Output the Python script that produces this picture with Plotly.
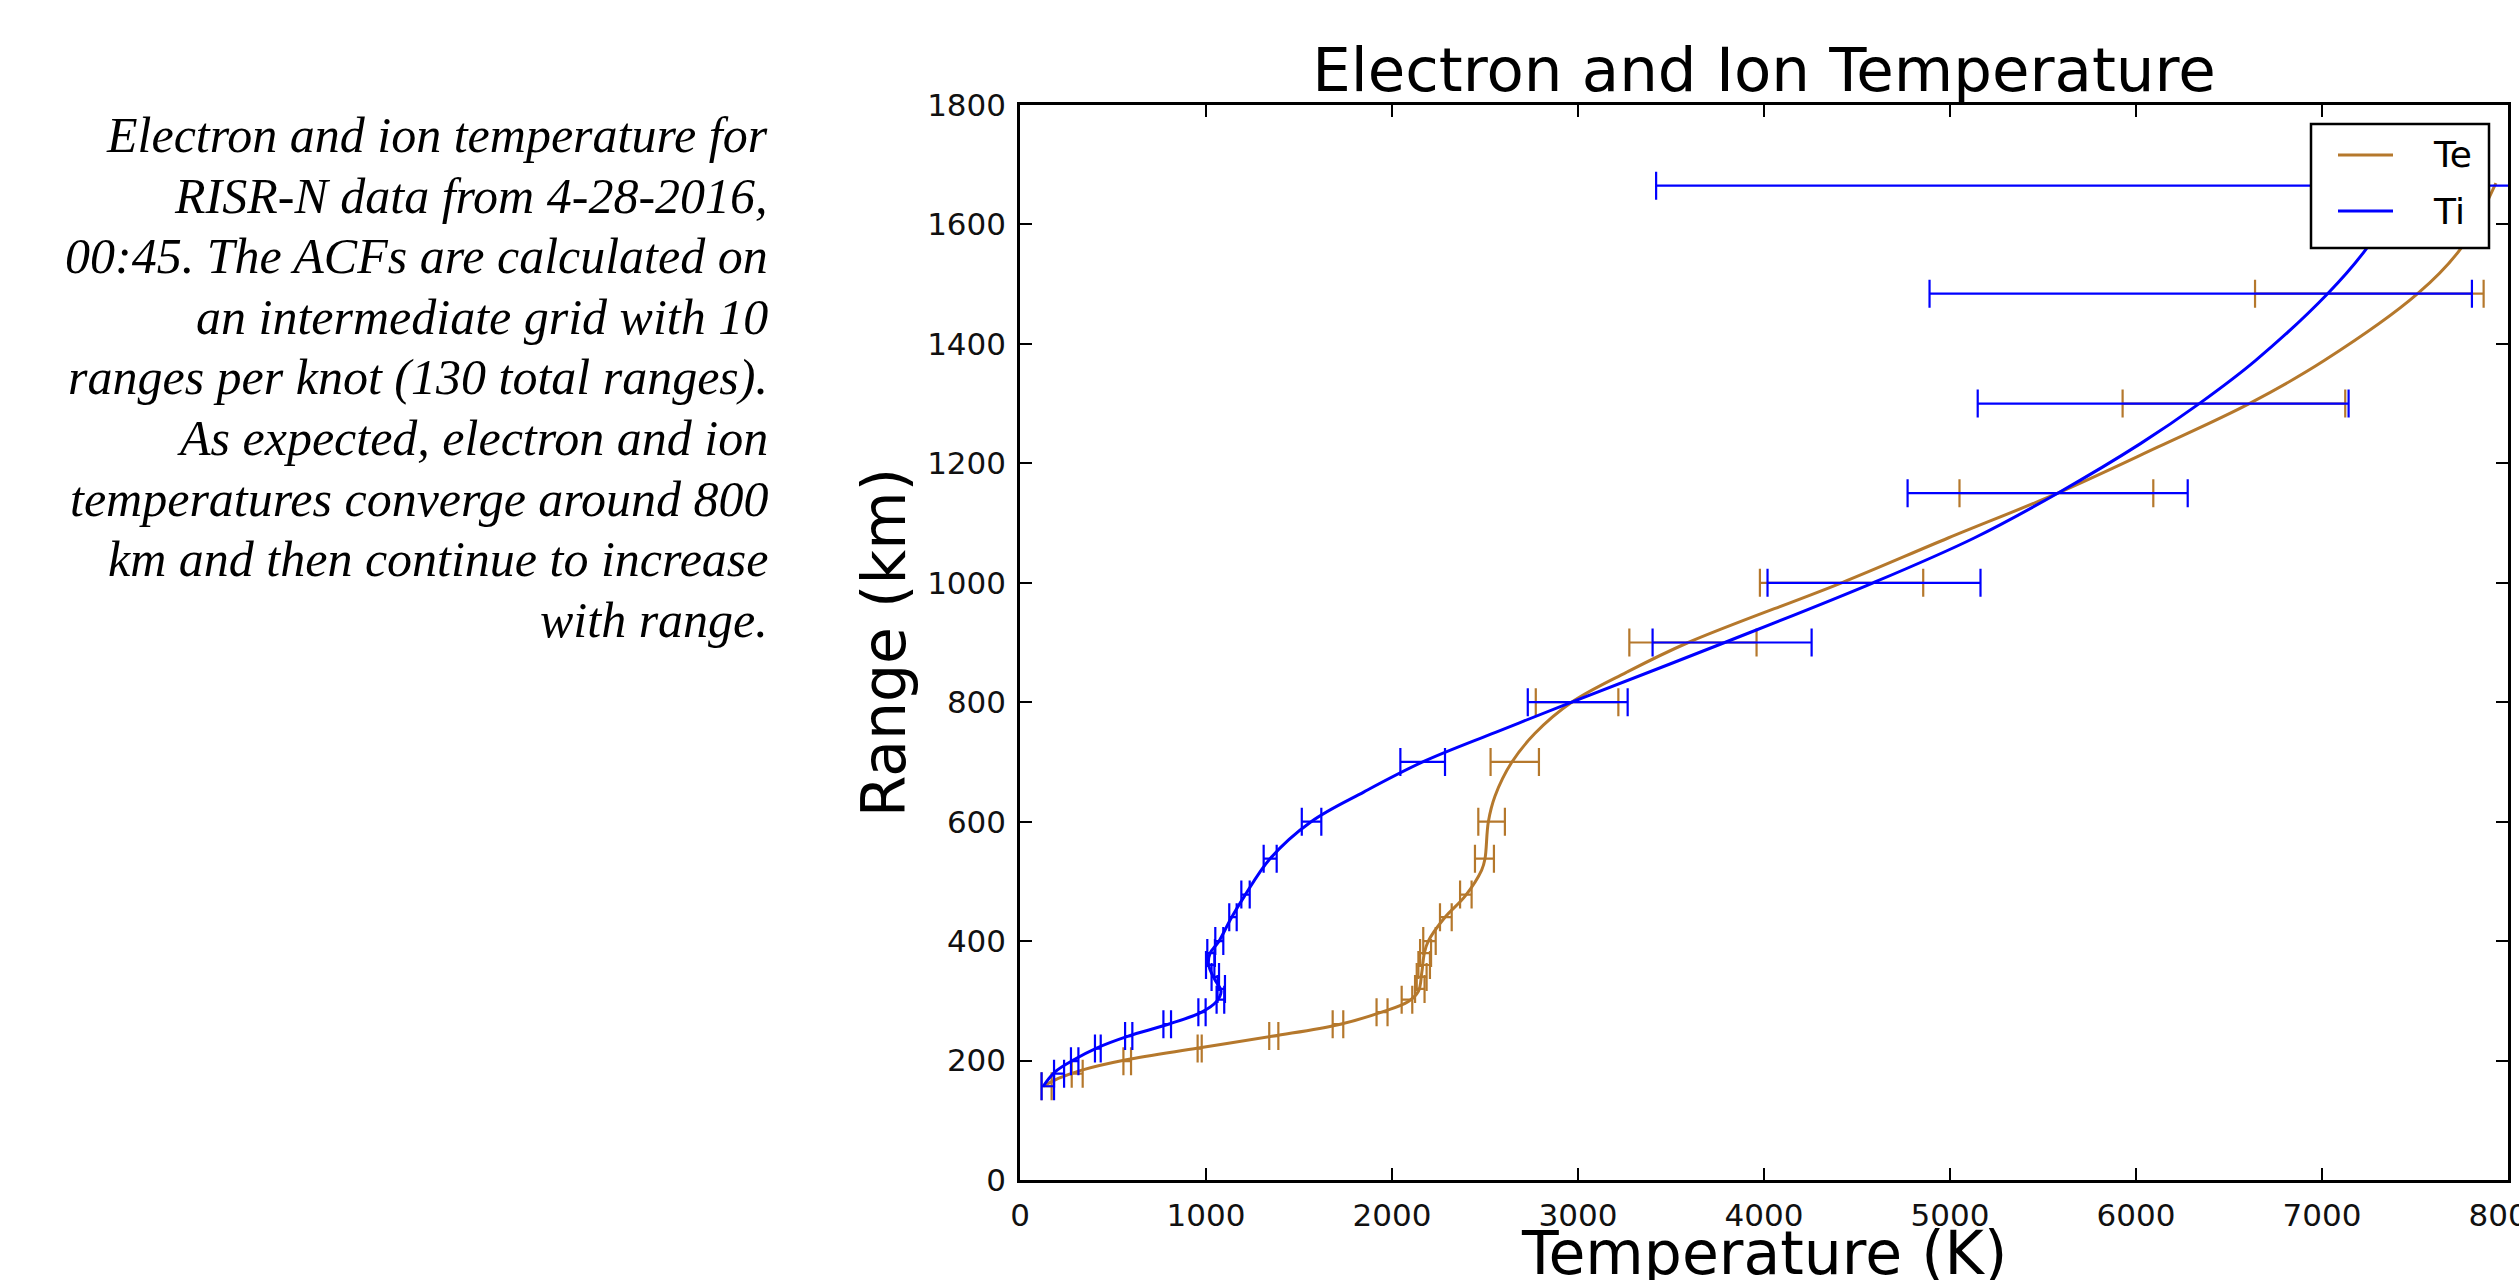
import plotly.graph_objects as go

# ---------------- data ----------------
# smooth fitted curves: range (km) and temperature (K)
te_curve_range = [157, 170, 184, 201, 221, 241, 260, 281, 299, 316, 347, 380, 400, 440, 475, 519, 538,
                  600, 643, 699, 748, 800, 850, 900, 1000, 1075, 1150, 1227, 1300, 1372, 1484, 1560, 1669]
te_curve_temp = [125, 206, 332, 565, 959, 1362, 1711, 1944, 2088, 2142, 2160, 2174, 2195, 2285, 2392, 2482, 2500,
                 2518, 2554, 2643, 2769, 2966, 3260, 3593, 4417, 4990, 5579, 6116, 6609, 7012, 7514, 7747, 7935]

ti_curve_range = [157, 181, 201, 221, 241, 260, 281, 299, 316, 335, 352, 363, 380, 391, 400, 440, 475, 538,
                  600, 650, 700, 750, 800, 900, 1000, 1075, 1150, 1233, 1300, 1372, 1484, 1560, 1665]
ti_curve_temp = [125, 188, 287, 412, 582, 789, 977, 1057, 1081, 1048, 1022, 1013, 1022, 1048, 1070, 1138, 1206, 1344,
                 1565, 1850, 2165, 2560, 2966, 3789, 4587, 5130, 5579, 6024, 6340, 6642, 7030, 7240, 7450]

# error bars at the measured ranges: lower / upper bounds (K)
bar_range = [157, 178, 199, 220, 241, 261, 281, 302, 320, 340, 360, 380, 400, 440, 478, 538, 600,
             700, 800, 900, 1000, 1150, 1300, 1484, 1665]
te_lo = [116, 278, 556, 955, 1340, 1681, 1917, 2052, 2124, 2133, 2142, 2151, 2168, 2258, 2366, 2446, 2464,
         2530, 2773, 3276, 3978, 5051, 5928, 6640]
te_hi = [170, 337, 597, 977, 1389, 1738, 1976, 2109, 2175, 2186, 2204, 2210, 2235, 2321, 2428, 2548, 2607,
         2790, 3217, 3960, 4856, 6093, 7125, 7869]
ti_lo = [116, 183, 274, 403, 565, 771, 959, 1057, 1062, 1030, 1000, 1007, 1050, 1125, 1190, 1310, 1515,
         2045, 2730, 3401, 4019, 4772, 5149, 4890, 3420]
ti_hi = [183, 237, 314, 434, 604, 812, 998, 1098, 1102, 1070, 1045, 1048, 1093, 1165, 1235, 1380, 1620,
         2285, 3267, 4256, 5164, 6278, 7143, 7806, 12000]

x_ticks = [0, 1000, 2000, 3000, 4000, 5000, 6000, 7000, 8000]
y_ticks = [0, 200, 400, 600, 800, 1000, 1200, 1400, 1600, 1800]

series_names = ["Te", "Ti"]
x_title = "Temperature (K)"
y_title = "Range (km)"
chart_title = "Electron and Ion Temperature"

caption_lines = [
    "Electron and ion temperature for",
    "RISR-N data from 4-28-2016,",
    "00:45. The ACFs are calculated on",
    "an intermediate grid with 10",
    "ranges per knot (130 total ranges).",
    "As expected, electron and ion",
    "temperatures converge around 800",
    "km and then continue to increase",
    "with range.",
]

TE_COLOR = "#B5782C"
TI_COLOR = "#0000FF"
colors = [TE_COLOR, TI_COLOR]

# ---------------- layout geometry (px) ----------------
W, H = 2519, 1280
L, R, T, B = 1020, 2508, 105, 1180


def px_x(px):
    return (px - L) / (R - L)


def px_y(py):
    return (B - py) / (B - T)


def bar_trace(rng, lo, hi, color):
    mid = [(a + b) / 2 for a, b in zip(lo, hi)]
    half = [(b - a) / 2 for a, b in zip(lo, hi)]
    return go.Scatter(
        x=mid, y=rng[:len(mid)], mode="markers",
        marker=dict(size=1, color="rgba(0,0,0,0)"),
        error_x=dict(type="data", array=half, symmetric=True, color=color,
                     thickness=2.2, width=14),
        showlegend=False, hoverinfo="skip",
    )


fig = go.Figure()
fig.add_trace(go.Scatter(x=te_curve_temp, y=te_curve_range, mode="lines", name=series_names[0],
                         line=dict(color=TE_COLOR, width=3, shape="spline", smoothing=1.0),
                         showlegend=False))
fig.add_trace(bar_trace(bar_range, te_lo, te_hi, TE_COLOR))
fig.add_trace(go.Scatter(x=ti_curve_temp, y=ti_curve_range, mode="lines", name=series_names[1],
                         line=dict(color=TI_COLOR, width=3, shape="spline", smoothing=1.0),
                         showlegend=False))
fig.add_trace(bar_trace(bar_range, ti_lo, ti_hi, TI_COLOR))

axis_common = dict(
    showline=True, linecolor="black", linewidth=2.5, mirror="ticks",
    ticks="inside", ticklen=12, tickwidth=1.5, tickcolor="black",
    showgrid=False, zeroline=False, automargin=False,
    tickfont=dict(family="DejaVu Sans", size=31, color="#111"),
)

fig.update_xaxes(range=[0, 8000], tickvals=x_ticks, ticktext=[str(v) for v in x_ticks],
                 ticklabelstandoff=6, ticklabeloverflow="allow", **axis_common)
fig.update_yaxes(range=[0, 1800], tickvals=y_ticks, ticktext=[str(v) for v in y_ticks],
                 title=dict(text=y_title, font=dict(family="DejaVu Sans", size=60, color="black"),
                            standoff=3),
                 ticklabelstandoff=5, **axis_common)

annotations = []
for i, line in enumerate(caption_lines):
    yc = 135 + 60.6 * i
    annotations.append(dict(
        text="<i>" + line + "</i>", xref="paper", yref="paper",
        x=px_x(770), y=px_y(yc),
        xanchor="right", yanchor="middle", showarrow=False,
        font=dict(family="Liberation Serif", size=50, color="black"),
    ))

# x-axis title (sits partly below the page edge, as in the reference)
annotations.append(dict(text=x_title, xref="paper", yref="paper", x=0.5, y=px_y(1253),
                        xanchor="center", yanchor="middle", showarrow=False,
                        font=dict(family="DejaVu Sans", size=60, color="black")))

# legend box (drawn as a framed key in the upper-right corner)
shapes = [dict(type="rect", xref="paper", yref="paper",
               x0=px_x(2311), x1=px_x(2489), y0=px_y(248), y1=px_y(124),
               fillcolor="white", line=dict(color="black", width=2.5), layer="above")]
for k, (name, col) in enumerate(zip(series_names, colors)):
    yrow = 155 + 56 * k
    shapes.append(dict(type="line", xref="paper", yref="paper",
                       x0=px_x(2338), x1=px_x(2393), y0=px_y(yrow), y1=px_y(yrow),
                       line=dict(color=col, width=3), layer="above"))
    annotations.append(dict(text=name, xref="paper", yref="paper", x=px_x(2431), y=px_y(yrow),
                            xanchor="left", yanchor="middle", showarrow=False,
                            font=dict(family="DejaVu Sans", size=36, color="black")))

fig.update_layout(
    width=W, height=H,
    margin=dict(l=L, r=W - R, t=T, b=H - B, pad=0, autoexpand=False),
    plot_bgcolor="white", paper_bgcolor="white",
    font=dict(family="DejaVu Sans", color="black"),
    title=dict(text=chart_title, x=0.5, xref="paper", xanchor="center",
               y=1 - 70 / H, yref="container", yanchor="middle", automargin=False,
               font=dict(family="DejaVu Sans", size=61, color="black")),
    showlegend=False,
    annotations=annotations,
    shapes=shapes,
)

fig.write_html("out.html")
